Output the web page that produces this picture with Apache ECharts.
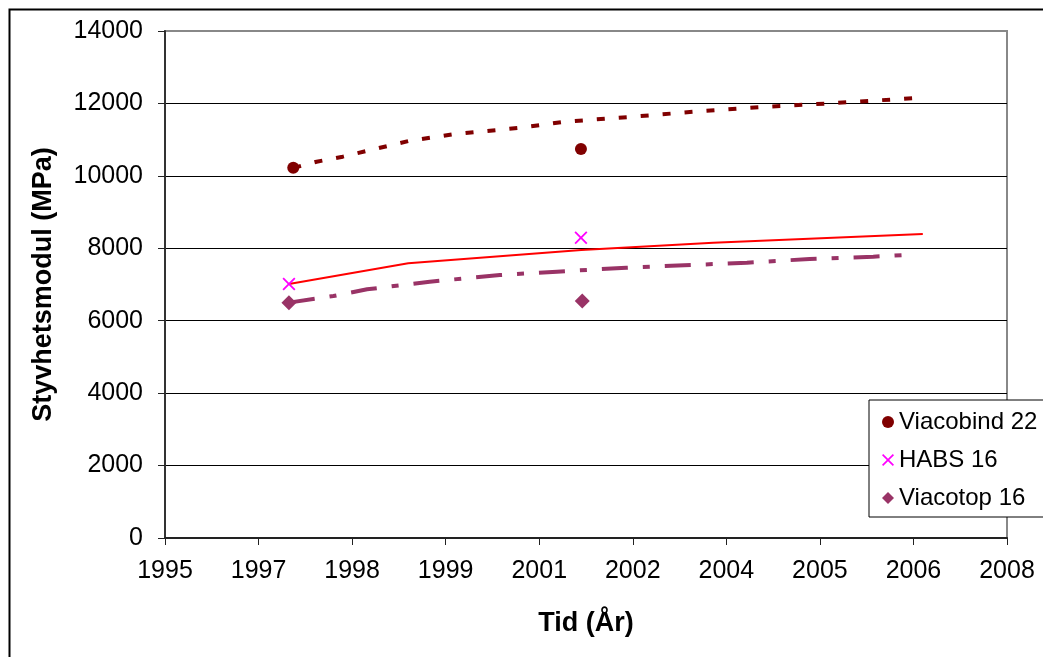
<!DOCTYPE html>
<html>
<head>
<meta charset="utf-8">
<script src="https://cdn.jsdelivr.net/npm/echarts@6/dist/echarts.min.js"></script>
<style>html,body{margin:0;padding:0;background:#fff;}#chart{width:1043px;height:657px;}</style>
</head>
<body>
<div id="chart"></div>
<script>
// Tick labels of the x axis (evenly spaced ticks, index 0..9)
var xTickLabels = ['1995','1997','1998','1999','2001','2002','2004','2005','2006','2008'];
// Measured points: [x position in tick units, stiffness MPa]
var viacobindPoints = [[1.371, 10226], [4.446, 10742]];
var habsPoints = [[1.325, 7014], [4.446, 8292]];
var viacotopPoints = [[1.325, 6498], [4.46, 6544]];
// Trend lines
var viacobindTrend = [[1.371,10217],[1.62,10390],[1.9,10530],[2.6,10960],[3.08,11147],[3.8,11330],[4.28,11496],[5.0,11634],[5.7,11780],[6.43,11910],[7.1,12000],[7.39,12048],[8.09,12158]];
var habsTrend = [[1.325,7014],[2.6,7585],[4.45,7953],[5.86,8155],[8.1,8395]];
var viacotopTrend = [[1.325,6500],[1.8,6682],[2.16,6867],[2.83,7077],[3.58,7262],[4.19,7354],[4.93,7464],[6.22,7602],[6.89,7704],[7.57,7768],[7.91,7815]];
var seriesNames = ['Viacobind 22', 'HABS 16', 'Viacotop 16'];

var xIcon = 'path://M0,1 L1,0 L5,4 L9,0 L10,1 L6,5 L10,9 L9,10 L5,6 L1,10 L0,9 L4,5 Z';
var FONT = '"Liberation Sans", Arial, sans-serif';

var chart = echarts.init(document.getElementById('chart'), null, {renderer: 'canvas'});
chart.setOption({
  animation: false,
  backgroundColor: '#fff',
  textStyle: {fontFamily: FONT},
  graphic: [{
    type: 'rect', left: 7, top: 7, silent: true, z: -10,
    shape: {width: 1100, height: 700},
    style: {fill: 'none', stroke: '#000', lineWidth: 2}
  }],
  grid: {left: 165, right: 36, top: 31, bottom: 119, show: true, borderColor: '#888', borderWidth: 2, backgroundColor: 'transparent'},
  legend: {
    orient: 'vertical', left: 869, top: 400,
    padding: [10, 30, 7, 13],
    backgroundColor: '#fff', borderColor: '#000', borderWidth: 1,
    itemWidth: 12, itemHeight: 12, itemGap: 14,
    textStyle: {fontSize: 24, fontFamily: FONT, color: '#000', lineHeight: 24},
    data: [
      {name: seriesNames[0], icon: 'circle'},
      {name: seriesNames[1], icon: xIcon},
      {name: seriesNames[2], icon: 'diamond'}
    ]
  },
  xAxis: {
    type: 'value', min: 0, max: 9, interval: 1,
    name: 'Tid (År)', nameLocation: 'middle', nameGap: 72,
    nameTextStyle: {fontSize: 27, fontWeight: 'bold', color: '#000', fontFamily: FONT},
    axisLine: {show: true, lineStyle: {color: '#222', width: 2}},
    axisTick: {show: true, inside: false, length: 7, lineStyle: {color: '#222', width: 1}},
    axisLabel: {fontSize: 25, color: '#000', margin: 21, fontFamily: FONT,
      formatter: function (v) { return xTickLabels[Math.round(v)] || ''; }},
    splitLine: {show: false}
  },
  yAxis: {
    type: 'value', min: 0, max: 14000, interval: 2000,
    name: 'Styvhetsmodul (MPa)', nameLocation: 'middle', nameGap: 108,
    nameTextStyle: {fontSize: 27, fontWeight: 'bold', color: '#000', fontFamily: FONT},
    axisLine: {show: true, lineStyle: {color: '#333', width: 2}},
    axisTick: {show: true, inside: false, length: 7, lineStyle: {color: '#222', width: 1}},
    axisLabel: {fontSize: 25, color: '#000', margin: 22, fontFamily: FONT,
      formatter: function (v) { return String(v); }},
    splitLine: {show: true, showMinLine: false, showMaxLine: false, lineStyle: {color: '#000', width: 1}}
  },
  series: [
    {name: 'Viacobind trend', type: 'line', data: viacobindTrend, showSymbol: false, symbol: 'none',
     lineStyle: {color: '#800000', width: 4, type: [8, 14]}, z: 2},
    {name: 'HABS trend', type: 'line', data: habsTrend, showSymbol: false, symbol: 'none',
     lineStyle: {color: '#ff0000', width: 2, type: 'solid'}, z: 2},
    {name: 'Viacotop trend', type: 'line', data: viacotopTrend, showSymbol: false, symbol: 'none',
     lineStyle: {color: '#993366', width: 4, type: [26, 15, 7, 15]}, z: 2},
    {name: seriesNames[0], type: 'scatter', data: viacobindPoints, symbol: 'circle', symbolSize: 12,
     itemStyle: {color: '#800000', opacity: 1}, z: 5},
    {name: seriesNames[1], type: 'scatter', data: habsPoints, symbol: xIcon, symbolSize: 13,
     itemStyle: {color: '#ff00ff', opacity: 1}, z: 5},
    {name: seriesNames[2], type: 'scatter', data: viacotopPoints, symbol: 'diamond', symbolSize: 15,
     itemStyle: {color: '#993366', opacity: 1}, z: 5}
  ]
});
</script>
</body>
</html>
